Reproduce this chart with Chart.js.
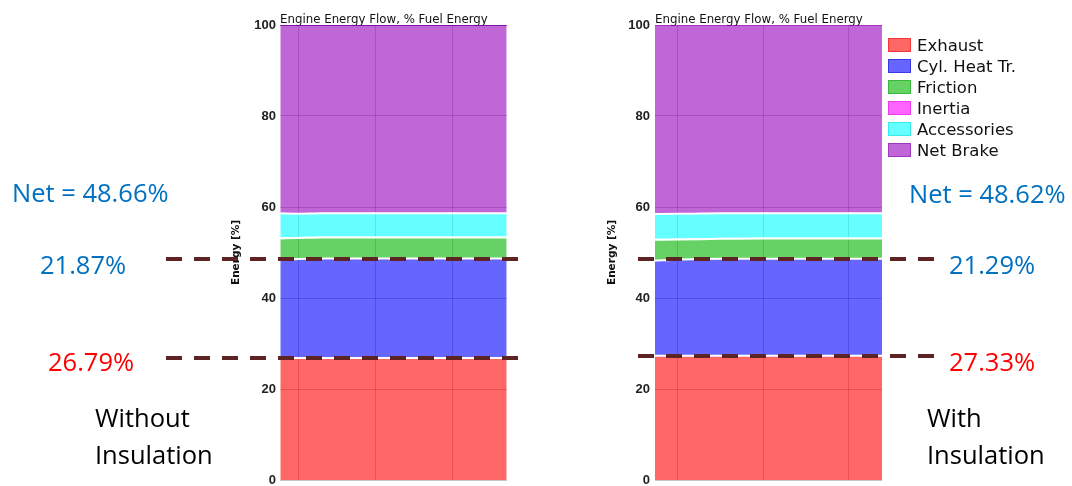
<!DOCTYPE html>
<html>
<head>
<meta charset="utf-8">
<script src="https://cdn.jsdelivr.net/npm/chart.js@4.4.0/dist/chart.umd.min.js"></script>
<style>
  html, body { margin:0; padding:0; background:#fff; }
  body { width:1072px; height:486px; position:relative; overflow:hidden; font-family:'Open Sans', sans-serif; }
  .wrap { position:absolute; top:0; height:486px; }
  .note { position:absolute; font-size:25.5px; line-height:25px; white-space:nowrap; }
  .blue { color:#0070c0; }
  .red  { color:#ff0000; }
  .case { position:absolute; font-size:25.5px; line-height:37px; color:#000; white-space:nowrap; }
  #legend { position:absolute; left:888px; top:34.5px; font-family:'DejaVu Sans', sans-serif; font-size:16.5px; color:#111; }
  #legend .row { display:flex; align-items:center; height:21px; white-space:nowrap; }
  #legend .sw { width:21px; height:12px; border:1px solid; margin-right:6px; }
</style>
</head>
<body>
<div class="wrap" style="left:0;width:540px"><canvas id="left" width="540" height="486"></canvas></div>
<div class="wrap" style="left:540px;width:532px"><canvas id="right" width="532" height="486"></canvas></div>
<div id="legend"></div>

<div class="note blue" style="left:12px;top:180px">Net = 48.66%</div>
<div class="note blue" style="left:40px;top:252px">21.87%</div>
<div class="note red"  style="left:48px;top:349px">26.79%</div>
<div class="case" style="left:95px;top:399px">Without<br>Insulation</div>

<div class="note blue" style="left:909px;top:181px">Net = 48.62%</div>
<div class="note blue" style="left:949px;top:252px">21.29%</div>
<div class="note red"  style="left:949px;top:349px">27.33%</div>
<div class="case" style="left:927px;top:399px">With<br>Insulation</div>

<script>
const seriesNames = ['Exhaust', 'Cyl. Heat Tr.', 'Friction', 'Inertia', 'Accessories', 'Net Brake'];
const seriesFills = ['rgba(255,0,0,0.6)', 'rgba(0,0,255,0.6)', 'rgba(0,180,0,0.6)',
                     'rgba(255,0,255,0.6)', 'rgba(0,255,255,0.6)', 'rgba(150,0,187,0.6)'];
const seriesEdges = ['rgba(230,0,0,0.45)', 'rgba(0,0,200,0.45)', 'rgba(0,150,0,0.45)',
                     'rgba(220,0,220,0.45)', 'rgba(0,210,210,0.45)', 'rgba(120,0,160,0.45)'];

// without insulation (x = operating point, y = % of fuel energy per layer)
const pointsLeft      = [0.77, 1.0, 1.3, 2.0, 3.0, 3.71];
const exhaustLeft     = [26.79, 26.79, 26.79, 26.79, 26.79, 26.79];
const heatLeft        = [21.56, 21.76, 21.87, 21.87, 21.87, 21.87];
const frictionLeft    = [4.75, 4.64, 4.64, 4.64, 4.64, 4.64];
const inertiaLeft     = [0, 0, 0, 0, 0, 0];
const accessoriesLeft = [5.5, 5.31, 5.3, 5.3, 5.3, 5.3];
const brakeLeft       = [41.4, 41.5, 41.4, 41.4, 41.4, 41.4];
const cutsLeft        = [26.79, 48.66];

// with insulation
const pointsRight      = [0.73, 1.0, 1.5, 2.0, 3.0, 3.39];
const exhaustRight     = [27.33, 27.33, 27.33, 27.33, 27.33, 27.33];
const heatRight        = [20.9, 21.1, 21.29, 21.29, 21.29, 21.29];
const frictionRight    = [4.57, 4.42, 4.38, 4.48, 4.48, 4.48];
const inertiaRight     = [0, 0, 0, 0, 0, 0];
const accessoriesRight = [5.65, 5.65, 5.6, 5.5, 5.5, 5.5];
const brakeRight       = [41.55, 41.5, 41.4, 41.4, 41.4, 41.4];
const cutsRight        = [27.33, 48.62];

const gridColor = 'rgba(0,0,0,0.22)';

const refLines = {
  id: 'refLines',
  afterDatasetsDraw(chart, args, opts) {
    const { ctx } = chart;
    const y = chart.scales.y;
    ctx.save();
    ctx.strokeStyle = '#5e2424';
    ctx.lineWidth = 4;
    ctx.setLineDash([16, 12]);
    opts.values.forEach(v => {
      const py = Math.round(y.getPixelForValue(v));
      ctx.beginPath(); ctx.moveTo(opts.from, py); ctx.lineTo(opts.to, py); ctx.stroke();
    });
    ctx.restore();
  }
};

function energyChart(id, xs, layers, o) {
  return new Chart(document.getElementById(id), {
    type: 'line',
    data: {
      datasets: layers.map((vals, k) => ({
        label: seriesNames[k],
        data: xs.map((x, i) => ({ x, y: vals[i] })),
        backgroundColor: seriesFills[k],
        borderColor: k === layers.length - 1 ? o.topEdge : '#ffffff',
        borderWidth: 2,
        fill: k === 0 ? 'origin' : '-1',
        pointRadius: 0,
        cubicInterpolationMode: 'monotone'
      }))
    },
    options: {
      responsive: false, animation: false,
      layout: { padding: o.padding },
      scales: {
        x: {
          type: 'linear', min: o.xMin, max: o.xMax,
          border: { display: false },
          grid: { color: gridColor, drawTicks: false },
          ticks: { display: false, stepSize: 1, includeBounds: false },
          afterFit: s => { s.height = 0; }
        },
        y: {
          stacked: true, min: 0, max: 100,
          border: { display: false },
          grid: { color: gridColor, drawTicks: false },
          ticks: { stepSize: 20, padding: o.tickPad, color: '#222',
                   font: { family: 'Liberation Sans', size: 13, weight: 'bold', lineHeight: 1 } },
          title: { display: true, text: 'Energy [%]', padding: 0, color: '#111',
                   font: { family: 'DejaVu Sans', size: 10.5, weight: 'bold', lineHeight: 1.2 } },
          afterFit: s => { s.width = o.yWidth; s.paddingBottom = 6; }
        }
      },
      plugins: {
        title: {
          display: true, text: 'Engine Energy Flow, % Fuel Energy', align: 'start', fullSize: false,
          color: '#111', padding: { top: 12, bottom: -2 },
          font: { family: 'DejaVu Sans', size: 11.8, weight: 'normal', lineHeight: '15px' }
        },
        legend: { display: false },
        tooltip: { enabled: false },
        refLines: { values: o.cuts, from: o.cutFrom, to: o.cutTo }
      }
    },
    plugins: [refLines]
  });
}

energyChart('left', pointsLeft,
  [exhaustLeft, heatLeft, frictionLeft, inertiaLeft, accessoriesLeft, brakeLeft],
  { xMin: 0.766, xMax: 3.714, padding: { left: 230, right: 33, top: 0, bottom: 0 },
    yWidth: 50, tickPad: 4, topEdge: 'rgba(110,0,150,0.75)',
    cuts: cutsLeft, cutFrom: 166, cutTo: 520 });

energyChart('right', pointsRight,
  [exhaustRight, heatRight, frictionRight, inertiaRight, accessoriesRight, brakeRight],
  { xMin: 0.731, xMax: 3.386, padding: { left: 66, right: 190, top: 0, bottom: 0 },
    yWidth: 49, tickPad: 5, topEdge: 'rgba(150,0,187,0.35)',
    cuts: cutsRight, cutFrom: 98, cutTo: 395 });

// legend beside the right chart
document.getElementById('legend').innerHTML = seriesNames.map((name, k) =>
  `<div class="row"><span class="sw" style="background:${seriesFills[k]};border-color:${seriesEdges[k]}"></span>${name}</div>`
).join('');
</script>
</body>
</html>
